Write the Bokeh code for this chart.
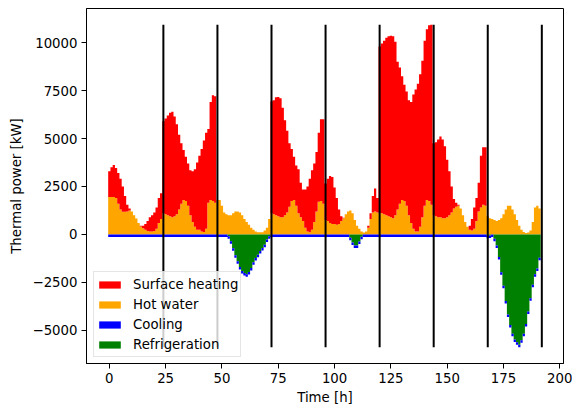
import numpy as np
from bokeh.plotting import figure
from bokeh.models import Range1d, FixedTicker, Legend, LegendItem, ColumnDataSource
from bokeh.embed import file_html
from bokeh.resources import INLINE

hours = list(range(192))
day_bounds = [24, 48, 72, 96, 120, 144, 168, 192]
x_ticks = [0, 25, 50, 75, 100, 125, 150, 175, 200]
y_ticks = [-5000, -2500, 0, 2500, 5000, 7500, 10000]

surface_heating = [
    1350, 1550, 1670, 1570, 1600, 1600, 1320, 820, 350, 100, 0, 0, 0, 0, 30, 120, 300, 520, 750, 850, 970, 1100, 1300, 1350,
    4800, 5000, 5200, 5400, 5500, 5200, 4700, 3900, 3150, 2600, 2300, 2200, 2350, 2650, 3000, 3500, 3850, 4300, 4770, 5000, 3850, 5100, 5500, 5550,
    0, 0, 0, 0, 0, 0, 0, 0, 0, 0, 0, 0, 0, 0, 0, 0, 0, 0, 0, 0, 0, 0, 0, 0,
    5850, 5950, 6150, 6220, 6200, 5700, 4950, 4250, 3300, 2700, 2250, 2100, 2300, 1800, 1650, 2000, 2350, 2780, 3100, 3050, 3100, 3600, 4250, 4400,
    1900, 2200, 2450, 2450, 1900, 1400, 750, 250, 20, 0, 0, 0, 0, 0, 0, 0, 0, 0, 0, 100, 300, 850, 1200, 750,
    8700, 8850, 9050, 9250, 9380, 9460, 9480, 9050, 7700, 7100, 6450, 6050, 5950, 6000, 6300, 7000, 7400, 7700, 7950, 8150, 8600, 8900, 9150, 9387,
    3750, 3850, 4050, 4200, 4100, 3750, 3000, 2300, 1350, 500, 200, 50, 0, 0, 0, 0, 200, 600, 1100, 1200, 1500, 2700, 3000, 3050,
    0, 0, 0, 0, 0, 0, 0, 0, 0, 0, 0, 0, 0, 0, 0, 0, 0, 0, 0, 0, 0, 0, 0, 0,
]

hot_water = [
    1950, 1950, 1950, 1900, 1600, 1300, 1180, 1180, 1200, 1250, 1200, 1000, 830, 600, 420, 330, 250, 180, 150, 150, 180, 300, 600, 800,
    1100, 1050, 1000, 950, 900, 950, 1050, 1300, 1600, 1800, 1750, 1500, 1000, 650, 400, 250, 250, 150, 130, 300, 1650, 1800, 1750, 1650,
    1800, 1800, 1500, 1150, 1050, 1000, 1000, 1100, 1200, 1200, 1150, 1000, 800, 650, 500, 350, 250, 150, 120, 120, 120, 200, 350, 800,
    1100, 1050, 1000, 950, 900, 900, 1000, 1150, 1450, 1750, 1800, 1500, 1100, 900, 700, 350, 150, 120, 250, 650, 1200, 1700, 1750, 1600,
    750, 700, 600, 550, 550, 500, 550, 700, 850, 1050, 1200, 1250, 1100, 750, 450, 300, 150, 100, 150, 350, 800, 1150, 1200, 1150,
    1100, 1100, 1050, 1000, 950, 900, 850, 1000, 1300, 1600, 1800, 1750, 1500, 1000, 600, 300, 150, 150, 400, 900, 1500, 1800, 1750, 1550,
    1000, 950, 900, 900, 850, 850, 900, 1000, 1150, 1350, 1450, 1500, 1350, 1000, 650, 400, 250, 200, 300, 700, 1200, 1400, 1550, 1500,
    950, 850, 800, 750, 700, 750, 850, 1050, 1300, 1500, 1500, 1300, 1050, 750, 450, 250, 130, 80, 100, 200, 650, 1400, 1500, 1350,
]

cooling = [
    -130, -130, -130, -130, -130, -130, -130, -130, -130, -130, -130, -130, -130, -130, -130, -130, -130, -130, -130, -130, -130, -130, -130, -130,
    -130, -130, -130, -130, -130, -130, -130, -130, -130, -130, -130, -130, -130, -130, -130, -130, -130, -130, -130, -130, -130, -130, -130, -130,
    -130, -130, -130, -130, -130, -130, -130, -130, -130, -130, -130, -130, -130, -130, -130, -130, -130, -130, -130, -130, -130, -130, -130, -130,
    -130, -130, -130, -130, -130, -130, -130, -130, -130, -130, -130, -130, -130, -130, -130, -130, -130, -130, -130, -130, -130, -130, -130, -130,
    -130, -130, -130, -130, -130, -130, -130, -130, -130, -130, -130, -130, -130, -130, -130, -130, -130, -130, -130, -130, -130, -130, -130, -130,
    -130, -130, -130, -130, -130, -130, -130, -130, -130, -130, -130, -130, -130, -130, -130, -130, -130, -130, -130, -130, -130, -130, -130, -130,
    -130, -130, -130, -130, -130, -130, -130, -130, -130, -130, -130, -130, -130, -130, -130, -130, -130, -130, -130, -130, -130, -130, -130, -130,
    -130, -130, -130, -130, -130, -130, -130, -130, -130, -130, -130, -130, -130, -130, -130, -130, -130, -130, -130, -130, -130, -130, -130, -130,
]

refrigeration = [
    0, 0, 0, 0, 0, 0, 0, 0, 0, 0, 0, 0, 0, 0, 0, 0, 0, 0, 0, 0, 0, 0, 0, 0,
    0, 0, 0, 0, 0, 0, 0, 0, 0, 0, 0, 0, 0, 0, 0, 0, 0, 0, 0, 0, 0, 0, 0, 0,
    0, 0, 0, 0, 0, -90, -360, -720, -1080, -1400, -1700, -1900, -2010, -2080, -1960, -1750, -1450, -1230, -1060, -860, -700, -540, -260, -90,
    0, 0, 0, 0, 0, 0, 0, 0, 0, 0, 0, 0, 0, 0, 0, 0, 0, 0, 0, 0, 0, 0, 0, 0,
    0, 0, 0, 0, 0, 0, 0, 0, 0, 0, 0, -170, -420, -570, -570, -370, -120, 0, 0, 0, 0, 0, 0, 0,
    0, 0, 0, 0, 0, 0, 0, 0, 0, 0, 0, 0, 0, 0, 0, 0, 0, 0, 0, 0, 0, 0, 0, 0,
    0, 0, 0, 0, 0, 0, 0, 0, 0, 0, 0, 0, 0, 0, 0, 0, 0, 0, 0, 0, 0, 0, 0, 0,
    -70, -50, 0, -220, -570, -1170, -1970, -2670, -3470, -4170, -4720, -5170, -5470, -5620, -5755, -5520, -5170, -4670, -4020, -3320, -2620, -2070, -1770, -1220,
]

FONT = "DejaVu Sans"
FS = "13.3px"

hw = np.array(hot_water, dtype=float)
sh = np.array(surface_heating, dtype=float)
cl = np.array(cooling, dtype=float)
rf = np.array(refrigeration, dtype=float)

pos_top = hw + sh
neg_bot = rf + cl
ymax = float(pos_top.max())
ymin = float(neg_bot.min())

# bar edges (bars of width 1 centred on each hour)
x_edges = np.append(np.array(hours, dtype=float), hours[-1] + 1.0) - 0.5


def ext(a):
    return np.append(a, a[-1])


src = ColumnDataSource(dict(
    x=x_edges,
    zero=np.zeros(len(x_edges)),
    hw_top=ext(hw),
    sh_top=ext(pos_top),
    rf_bot=ext(rf),
    cl_bot=ext(neg_bot),
))

xspan = max(day_bounds) - x_edges[0]
xpad = 0.05 * xspan
ypad = 0.05 * (ymax - ymin)

p = figure(
    output_backend="svg", toolbar_location=None,
    frame_width=477, frame_height=355,
    min_border_left=86, min_border_right=9, min_border_top=8, min_border_bottom=45,
    x_range=Range1d(x_edges[0] - xpad, max(day_bounds) + xpad),
    y_range=Range1d(ymin - ypad, ymax + ypad),
)
p.background_fill_color = "white"
p.border_fill_color = "white"
p.xgrid.visible = False
p.ygrid.visible = False
p.outline_line_color = "black"
p.outline_line_width = 1

r_hw = p.varea_step(x="x", y1="zero", y2="hw_top", step_mode="after", source=src,
                    fill_color="#ffa500")
r_sh = p.varea_step(x="x", y1="hw_top", y2="sh_top", step_mode="after", source=src,
                    fill_color="#ff0000")
r_rf = p.varea_step(x="x", y1="zero", y2="rf_bot", step_mode="after", source=src,
                    fill_color="#008000")
r_cl = p.varea_step(x="x", y1="rf_bot", y2="cl_bot", step_mode="after", source=src,
                    fill_color="#0000ff")

p.segment(x0=day_bounds, x1=day_bounds, y0=[ymin] * len(day_bounds), y1=[ymax] * len(day_bounds),
          line_color="black", line_width=2)

for ax in (p.xaxis[0], p.yaxis[0]):
    ax.axis_line_color = "black"
    ax.major_tick_line_color = "black"
    ax.major_tick_out = 5
    ax.major_tick_in = 0
    ax.minor_tick_line_color = None
    ax.major_label_text_font = FONT
    ax.major_label_text_font_size = FS
    ax.major_label_text_color = "black"
    ax.axis_label_text_font = FONT
    ax.axis_label_text_font_size = FS
    ax.axis_label_text_font_style = "normal"
    ax.axis_label_text_color = "black"
    ax.major_label_standoff = 4

p.xaxis.ticker = FixedTicker(ticks=x_ticks)
p.yaxis.ticker = FixedTicker(ticks=y_ticks)
p.yaxis.major_label_overrides = {t: (("\u2212" + str(abs(t))) if t < 0 else str(t)) for t in y_ticks}
p.xaxis.axis_label = "Time [h]"
p.yaxis.axis_label = "Thermal power [kW]"
p.xaxis.axis_label_standoff = 4
p.yaxis.axis_label_standoff = 6

legend = Legend(items=[
    LegendItem(label="Surface heating", renderers=[r_sh]),
    LegendItem(label="Hot water", renderers=[r_hw]),
    LegendItem(label="Cooling", renderers=[r_cl]),
    LegendItem(label="Refrigeration", renderers=[r_rf]),
], location=(7, 6))
legend.label_text_font = FONT
legend.label_text_font_size = FS
legend.label_text_color = "black"
legend.glyph_width = 27
legend.glyph_height = 9
legend.label_height = 20
legend.label_standoff = 10
legend.spacing = 0
legend.padding = 2
legend.margin = 0
legend.border_line_color = "#cccccc"
legend.border_line_width = 1
legend.background_fill_color = "white"
legend.background_fill_alpha = 0.8
p.add_layout(legend)

open("out.html", "w").write(file_html(p, INLINE))
